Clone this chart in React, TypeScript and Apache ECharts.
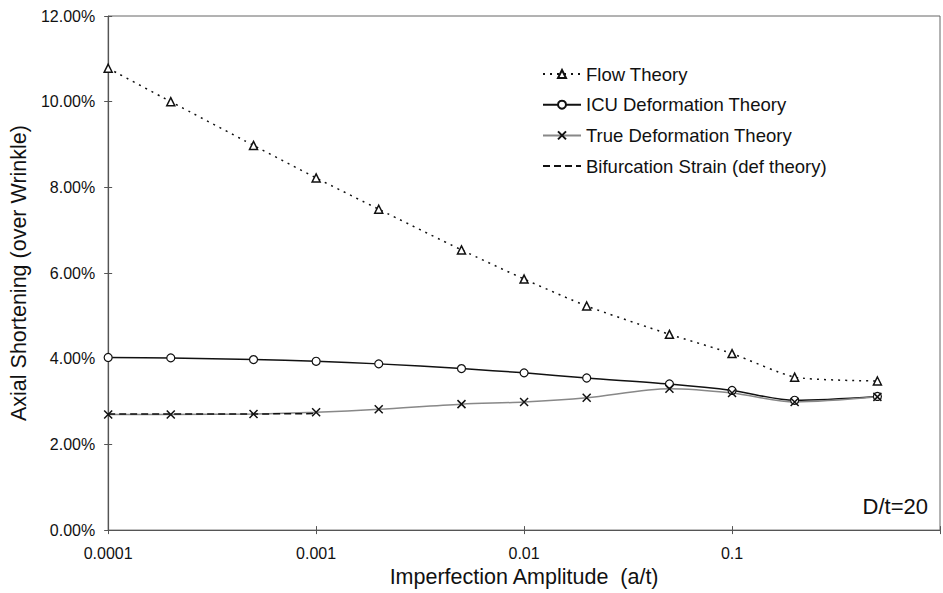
import React, { useEffect, useRef } from "react";
import * as echarts from "echarts";

const amplitudes = [0.0001, 0.0002, 0.0005, 0.001, 0.002, 0.005, 0.01, 0.02, 0.05, 0.1, 0.2, 0.5];
const flowTheory = [10.78, 10.0, 8.98, 8.22, 7.49, 6.54, 5.86, 5.23, 4.57, 4.12, 3.57, 3.48];
const icuDeformation = [4.03, 4.02, 3.98, 3.94, 3.88, 3.77, 3.67, 3.55, 3.41, 3.26, 3.03, 3.12];
const trueDeformation = [2.70, 2.70, 2.71, 2.75, 2.82, 2.94, 2.99, 3.09, 3.30, 3.20, 2.99, 3.11];
const bifurcationX = [0.0001, 0.0002, 0.0005, 0.001];
const bifurcation = [2.71, 2.71, 2.71, 2.72];
const seriesNames = ["Flow Theory", "ICU Deformation Theory", "True Deformation Theory", "Bifurcation Strain (def theory)"];

const FONT = "'Liberation Sans', Arial, Helvetica, sans-serif";
const pair = (xs: number[], ys: number[]) => xs.map((x, i) => [x, ys[i]]);
const CROSS = "path://M0,0L10,10M0,10L10,0";

export default function App() {
  const ref = useRef<HTMLDivElement>(null);
  useEffect(() => {
    document.body.style.margin = "0";
    const chart = echarts.init(ref.current!, null, { renderer: "svg" });
    const xBase = {
      type: "log" as const,
      logBase: 10,
      min: 0.0001,
      max: 1,
      splitLine: { show: false },
      minorTick: { show: false },
    };
    chart.setOption({
      animation: false,
      backgroundColor: "#fff",
      textStyle: { fontFamily: FONT, color: "#111" },
      grid: { left: 103, top: 16, bottom: 61, right: -4, show: true, borderColor: "#666", borderWidth: 1 },
      xAxis: [
        {
          ...xBase,
          name: "Imperfection Amplitude  (a/t)",
          nameLocation: "middle",
          nameGap: 32,
          nameTextStyle: { fontSize: 21.5, color: "#111", fontFamily: FONT },
          axisLine: { show: true, lineStyle: { color: "#555", width: 1.2 } },
          axisTick: { show: true, length: 4, lineStyle: { color: "#555" } },
          axisLabel: {
            fontSize: 16,
            color: "#111",
            fontFamily: FONT,
            margin: 15,
            formatter: (v: number) => (v >= 0.99 ? "" : String(Number(v.toPrecision(1)))),
          },
        },
        {
          ...xBase,
          position: "bottom",
          axisLine: { show: false },
          axisTick: { show: true, inside: true, length: 4, lineStyle: { color: "#555" } },
          axisLabel: { show: false },
        },
      ],
      yAxis: [
        {
          type: "value",
          min: 0,
          max: 12,
          interval: 2,
          name: "Axial Shortening (over Wrinkle)",
          nameLocation: "middle",
          nameGap: 62,
          nameTextStyle: { fontSize: 21.5, color: "#111", fontFamily: FONT },
          splitLine: { show: false },
          axisLine: { show: true, lineStyle: { color: "#555", width: 1.2 } },
          axisTick: { show: true, length: 4, lineStyle: { color: "#555" } },
          axisLabel: {
            fontSize: 16,
            color: "#111",
            fontFamily: FONT,
            margin: 13,
            formatter: (v: number) => v.toFixed(2) + "%",
          },
        },
        {
          type: "value",
          min: 0,
          max: 12,
          interval: 2,
          position: "left",
          splitLine: { show: false },
          axisLine: { show: false },
          axisTick: { show: true, inside: true, length: 4, lineStyle: { color: "#555" } },
          axisLabel: { show: false },
        },
      ],
      legend: {
        orient: "vertical",
        left: 537,
        top: 59,
        itemWidth: 38,
        itemHeight: 10,
        itemGap: 10.7,
        data: seriesNames,
        textStyle: { fontSize: 18.5, color: "#111", fontFamily: FONT, lineHeight: 20 },
      },
      graphic: [
        {
          type: "text",
          right: 15,
          top: 495,
          style: { text: "D/t=20", fontSize: 22, fill: "#111", fontFamily: FONT },
        },
      ],
      series: [
        {
          name: seriesNames[0],
          type: "line",
          smooth: 0.2,
          data: pair(amplitudes, flowTheory),
          symbol: "triangle",
          symbolSize: 8,
          lineStyle: { color: "#111", width: 1.5, type: [2, 5] },
          itemStyle: { color: "#fff", borderColor: "#111", borderWidth: 1.5 },
        },
        {
          name: seriesNames[1],
          type: "line",
          smooth: 0.3,
          data: pair(amplitudes, icuDeformation),
          symbol: "circle",
          symbolSize: 8,
          lineStyle: { color: "#111", width: 1.5 },
          itemStyle: { color: "#fff", borderColor: "#111", borderWidth: 1.2 },
        },
        {
          name: seriesNames[2],
          type: "line",
          smooth: 0.3,
          data: pair(amplitudes, trueDeformation),
          symbol: CROSS,
          symbolSize: 8,
          lineStyle: { color: "#888", width: 1.5 },
          itemStyle: { color: "#111", borderColor: "#111", borderWidth: 1.5 },
        },
        {
          name: seriesNames[3],
          type: "line",
          data: pair(bifurcationX, bifurcation),
          symbol: "none",
          lineStyle: { color: "#111", width: 1.5, type: [7, 4] },
          itemStyle: { color: "rgba(0,0,0,0)", borderColor: "rgba(0,0,0,0)", borderWidth: 0 },
        },
      ],
    });
    return () => chart.dispose();
  }, []);
  return <div ref={ref} style={{ width: 943, height: 593 }} />;
}
